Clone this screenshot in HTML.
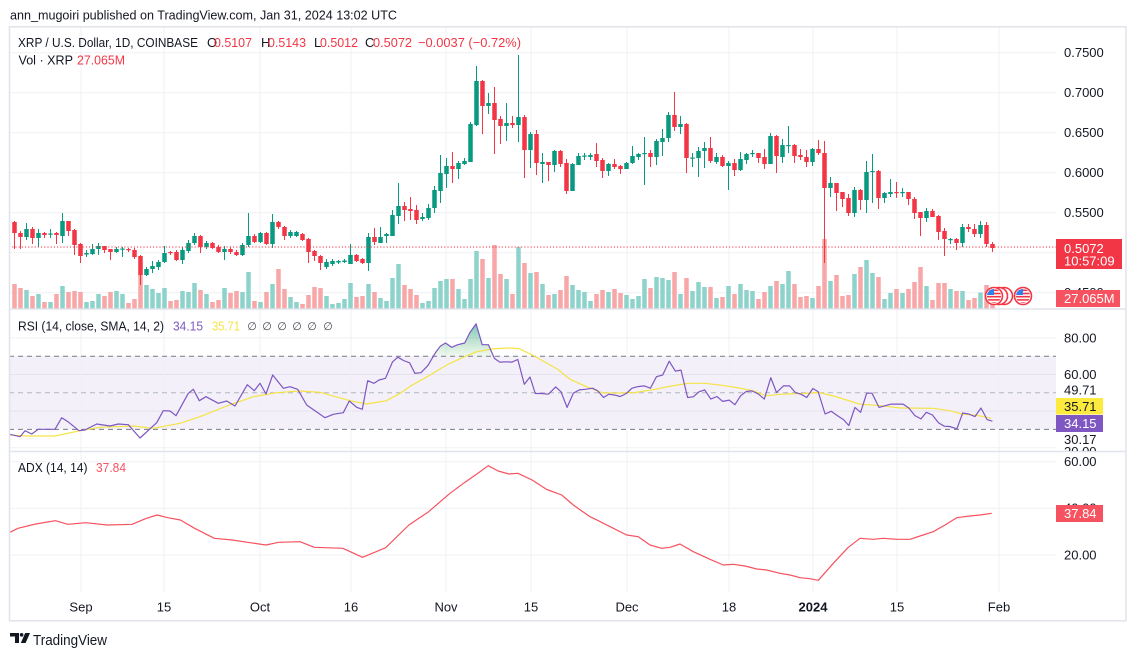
<!DOCTYPE html>
<html><head><meta charset="utf-8">
<style>
html,body{margin:0;padding:0;background:#fff;}
svg{display:block;font-family:"Liberation Sans",Arial,sans-serif;}
</style></head>
<body>
<svg id="s" width="1136" height="656" viewBox="0 0 1136 656" xmlns="http://www.w3.org/2000/svg">
<defs>
<clipPath id="plot"><rect x="9" y="27" width="1047" height="282"/></clipPath>
<clipPath id="rsiclip"><rect x="9" y="310" width="1117" height="141"/></clipPath>
<linearGradient id="ob" x1="0" y1="0" x2="0" y2="1">
<stop offset="0" stop-color="#089981" stop-opacity="0.55"/>
<stop offset="1" stop-color="#4caf50" stop-opacity="0.08"/>
</linearGradient>
<clipPath id="f1"><circle cx="994" cy="296" r="7"/></clipPath>
<clipPath id="f4"><circle cx="1023" cy="296" r="7"/></clipPath>
</defs>
<rect width="1136" height="656" fill="#fff"/>

<!-- header -->
<text x="10" y="19.5" font-size="13" fill="#131722" textLength="387" lengthAdjust="spacingAndGlyphs">ann_mugoiri published on TradingView.com, Jan 31, 2024 13:02 UTC</text>

<!-- RSI band -->
<rect x="9" y="356" width="1047" height="73" fill="#f3f0f9"/>

<!-- grid -->
<g stroke="#f0f1f5" stroke-width="1">
<line x1="9" x2="1056" y1="52.7" y2="52.7"/><line x1="9" x2="1056" y1="92.7" y2="92.7"/>
<line x1="9" x2="1056" y1="132.7" y2="132.7"/><line x1="9" x2="1056" y1="172.7" y2="172.7"/>
<line x1="9" x2="1056" y1="212.7" y2="212.7"/><line x1="9" x2="1056" y1="252.7" y2="252.7"/>
<line x1="9" x2="1056" y1="292.7" y2="292.7"/>
<line x1="9" x2="1056" y1="337.9" y2="337.9"/><line x1="9" x2="1056" y1="374.5" y2="374.5" stroke="#e6e1f1"/>
<line x1="9" x2="1056" y1="411.1" y2="411.1" stroke="#e6e1f1"/><line x1="9" x2="1056" y1="447.7" y2="447.7"/>
<line x1="9" x2="1056" y1="461.7" y2="461.7"/><line x1="9" x2="1056" y1="508.3" y2="508.3"/>
<line x1="9" x2="1056" y1="555" y2="555"/>
<line x1="81" x2="81" y1="27" y2="592"/><line x1="164" x2="164" y1="27" y2="592"/>
<line x1="260" x2="260" y1="27" y2="592"/><line x1="351" x2="351" y1="27" y2="592"/>
<line x1="446" x2="446" y1="27" y2="592"/><line x1="531" x2="531" y1="27" y2="592"/>
<line x1="627" x2="627" y1="27" y2="592"/><line x1="729" x2="729" y1="27" y2="592"/>
<line x1="813" x2="813" y1="27" y2="592"/><line x1="897" x2="897" y1="27" y2="592"/>
<line x1="999" x2="999" y1="27" y2="592"/>
</g>

<!-- volume + candles (generated) -->
<g id="vol" clip-path="url(#plot)"></g>
<g id="cdl" clip-path="url(#plot)"></g>

<!-- price line -->
<line x1="9" x2="1056" y1="247" y2="247" stroke="#f23645" stroke-width="1" stroke-dasharray="1.2,2"/>

<!-- flags -->
<g>
<circle cx="1004" cy="296" r="8.5" fill="#fff" stroke="#f23645" stroke-width="1.6"/>
<circle cx="999" cy="296" r="8.5" fill="#fff" stroke="#f23645" stroke-width="1.6"/>
<circle cx="994" cy="296" r="8.5" fill="#fff" stroke="#f23645" stroke-width="1.6"/>
<g clip-path="url(#f1)">
<rect x="986" y="288" width="16" height="16" fill="#fff"/>
<rect x="986" y="289.5" width="16" height="1.6" fill="#f23645"/><rect x="986" y="292.7" width="16" height="1.6" fill="#f23645"/>
<rect x="986" y="295.9" width="16" height="1.6" fill="#f23645"/><rect x="986" y="299.1" width="16" height="1.6" fill="#f23645"/>
<rect x="986" y="302.3" width="16" height="1.6" fill="#f23645"/>
<rect x="986" y="288" width="8" height="7" fill="#2f80ed"/>
</g>
<circle cx="1023" cy="296" r="8.5" fill="#fff" stroke="#f23645" stroke-width="1.6"/>
<g clip-path="url(#f4)">
<rect x="1015" y="288" width="16" height="16" fill="#fff"/>
<rect x="1015" y="289.5" width="16" height="1.6" fill="#f23645"/><rect x="1015" y="292.7" width="16" height="1.6" fill="#f23645"/>
<rect x="1015" y="295.9" width="16" height="1.6" fill="#f23645"/><rect x="1015" y="299.1" width="16" height="1.6" fill="#f23645"/>
<rect x="1015" y="302.3" width="16" height="1.6" fill="#f23645"/>
<rect x="1015" y="288" width="8" height="7" fill="#2f80ed"/>
</g>
</g>

<!-- RSI dashed levels -->
<line x1="9" x2="1056" y1="356.2" y2="356.2" stroke="#787b86" stroke-dasharray="5,4"/>
<line x1="9" x2="1056" y1="392.8" y2="392.8" stroke="#b2b5be" stroke-dasharray="5,4"/>
<line x1="9" x2="1056" y1="429.4" y2="429.4" stroke="#787b86" stroke-dasharray="5,4"/>

<!-- overbought fill -->
<polygon points="433.5,356.2 435.3,352.9 440.2,346.3 445.5,343 451.6,347.3 457.8,344.7 464.7,343 470,332.4 476.1,323.9 482.2,344.7 488.4,344.7 493,356.2" fill="url(#ob)"/>

<!-- SMA -->
<polyline fill="none" stroke="#f5e343" stroke-width="1.2" points="10,435 26.7,436 55,436 80,430.7 100,427.3 133.3,426 153.3,428.3 180,423.3 200,416.7 226.7,406 253.3,396.7 276.7,392.7 300,391 320,392.3 350,400.7 366.7,404 370,403.4 386.3,400.8 398.6,394.2 410.8,385.9 431.2,374.4 447.6,364.5 463.9,356.9 476.1,351.9 492.4,348.9 508.8,348 519,348.6 533.3,355.5 557.8,369.4 570,379.3 586.3,386.6 602.7,392.9 614.9,393.2 635.3,392.5 655.7,389.2 672,385.9 688.4,383.3 704.7,383.3 721,385.2 737.3,387.6 753.7,390.9 765.9,395.8 782.2,394.2 802.7,393.5 819,392.5 835.3,396.5 859.8,404.1 880.2,405.7 900.6,408 933.3,408.3 949.6,410.7 961.8,414 978.2,415.6 991.2,418.3"/>

<!-- RSI -->
<polyline fill="none" stroke="#7e57c2" stroke-width="1.2" stroke-linejoin="round" points="10,434.3 20,436.7 25,430.7 31.7,434 38.3,429.3 55,429.3 61.7,417.7 68,421.7 79,430.7 85,430 96.7,424 110,426 118.3,424 128.3,424.7 140,438 156.7,422.7 163.3,410.7 170,411 176,415.7 188.3,393.3 193.3,389.3 199.3,400.7 206,396.7 218.3,403.3 226.7,401 235,406 247.3,384.7 254.3,390.7 260,383.3 266,394 272.7,375 283.3,388.3 290,386.7 297.7,389.3 306.7,405 325,417.7 333.3,414.3 343.3,412.7 349.3,401 356.7,407.3 362.3,409.3 367.7,380.7 374,383.3 379,380 385.5,378.3 392.4,362.1 397.8,357.2 403.5,360.5 409.6,362.8 414.9,373.4 421,372.7 428,365.4 435.3,352.9 440.2,346.3 445.5,343 451.6,347.3 457.8,344.7 464.7,343 470,332.4 476.1,323.9 482.2,344.7 488.4,344.7 494.5,358.5 499.8,362.1 506.7,361.8 512,362.1 517.8,359.5 524.3,384.3 530,377 535.3,393.5 541.4,393.5 548.4,394.2 555.7,386.9 561,391.8 567.1,407.4 573.3,393.2 579.4,389.9 586.3,389.2 592.4,388.2 597.8,390.9 603.5,397.5 608.8,394.2 614.9,395.1 620.2,396.5 626.3,393.5 632,388.2 638.2,386.6 644.3,385.9 650.4,388.2 656.5,376.7 662.7,375 669.2,361.2 675.3,371.1 681,370.1 687.6,397.5 693.3,396.8 699,391.8 704.7,389.9 710.8,399.1 716.9,396.5 722.7,401.4 729.2,400.1 734.9,404.7 740.6,395.8 746.3,391.5 752,390.9 758.6,394.2 764.3,399.1 770.8,377.7 776.5,392.5 783.5,385.9 789.6,385.9 795.3,392.5 801,394.2 806.7,397.5 812.9,388.5 818.2,391.8 825.1,414 831.2,411.3 837.3,415.6 843.5,419.6 848.8,425.5 854.9,407.4 860.6,412.3 866.7,393.2 872,393.2 879,407.4 885.1,405.7 891.2,404.1 897.3,404.1 903.1,404.1 908.8,408 914.9,415.6 921,418.9 926.3,412.3 932.4,415 938.6,422.9 944.3,426.2 949.6,426.5 956.9,428.8 962.7,413 968.8,414 974.9,416.6 981,408 987.1,419.6 992.4,421.2"/>

<!-- ADX -->
<polyline fill="none" stroke="#f7525f" stroke-width="1.2" stroke-linejoin="round" points="10,532.3 17.9,528.3 35.7,524 55.4,520.7 67.9,524.3 85.7,522.7 107.1,525 132.1,524.3 146.4,518.3 157.1,515 167.9,517.7 180.4,520 194.6,528.3 214.3,538.3 232.1,540 250,542.7 266.1,545 278.6,542.3 300,541.7 314.3,547.3 342.9,548.3 362.5,557.3 385.7,547.7 408.9,525 428.6,511.7 450,493.3 464.3,482.7 478.6,472.7 488.2,465.7 498.2,471 508.9,474 517.9,473.3 532.1,480 546.4,489.3 548.3,490 561.7,495 573.3,505 590,516.7 598.3,520.7 613.3,528.3 626.7,535 638.3,536.7 650,545 661.7,548.3 670,547.3 680,544 693.3,551.7 710,559.3 723.3,565 733.3,564.3 745,566 756.7,569 766.7,570 780,573.3 790,575 800,577.7 810,578.7 818.3,580.3 833.3,563.3 848.3,547.3 860,538.3 873.3,539.3 883.3,538.3 896.7,539.3 910,539.3 920,536 933.3,531.7 945,525 956.7,517.7 970,516 980,515 991.7,513.3"/>

<!-- pane separators and frame -->
<line x1="9" x2="1126" y1="309" y2="309" stroke="#e0e3eb" stroke-width="1.5"/>
<line x1="9" x2="1126" y1="451.5" y2="451.5" stroke="#e0e3eb" stroke-width="1.5"/>
<rect x="9.5" y="26.8" width="1116.5" height="594" fill="none" stroke="#e0e3eb" stroke-width="1.5"/>

<!-- legends -->
<g font-size="13" fill="#131722">
<text x="18" y="47" textLength="180" lengthAdjust="spacingAndGlyphs">XRP / U.S. Dollar, 1D, COINBASE</text>
<text x="207" y="47">O</text><text x="214" y="47" fill="#f23645" textLength="38" lengthAdjust="spacingAndGlyphs">0.5107</text>
<text x="261" y="47">H</text><text x="268" y="47" fill="#f23645" textLength="38" lengthAdjust="spacingAndGlyphs">0.5143</text>
<text x="314" y="47">L</text><text x="320" y="47" fill="#f23645" textLength="38" lengthAdjust="spacingAndGlyphs">0.5012</text>
<text x="365" y="47">C</text><text x="373" y="47" fill="#f23645" textLength="39" lengthAdjust="spacingAndGlyphs">0.5072</text>
<text x="418" y="47" fill="#f23645" textLength="103" lengthAdjust="spacingAndGlyphs">−0.0037 (−0.72%)</text>
<text x="18.5" y="64.5" textLength="54.5" lengthAdjust="spacingAndGlyphs">Vol · XRP</text>
<text x="77" y="64.5" fill="#f23645" textLength="48" lengthAdjust="spacingAndGlyphs">27.065M</text>

<text x="18" y="330.5" textLength="146" lengthAdjust="spacingAndGlyphs">RSI (14, close, SMA, 14, 2)</text>
<text x="173" y="330.5" fill="#7e57c2" textLength="30" lengthAdjust="spacingAndGlyphs">34.15</text>
<text x="212" y="330.5" fill="#f5e343" textLength="28" lengthAdjust="spacingAndGlyphs">35.71</text>
<g font-size="11" text-anchor="middle" fill="#434651" font-family="'DejaVu Sans',sans-serif">
<text x="252" y="330">∅</text><text x="267" y="330">∅</text><text x="282" y="330">∅</text>
<text x="297" y="330">∅</text><text x="312" y="330">∅</text><text x="328" y="330">∅</text>
</g>
<text x="18" y="472" textLength="69.5" lengthAdjust="spacingAndGlyphs">ADX (14, 14)</text>
<text x="96" y="472" fill="#f7525f" textLength="30" lengthAdjust="spacingAndGlyphs">37.84</text>
</g>

<!-- price axis -->
<g font-size="13" fill="#131722">
<text x="1064" y="57.2">0.7500</text>
<text x="1064" y="97.2">0.7000</text>
<text x="1064" y="137.2">0.6500</text>
<text x="1064" y="177.2">0.6000</text>
<text x="1064" y="217.2">0.5500</text>
<text x="1064" y="297.2">0.4500</text>
</g>
<rect x="1056" y="239" width="66" height="30" fill="#f23645"/>
<text x="1064" y="253" font-size="13" fill="#fff">0.5072</text>
<text x="1064" y="265.5" font-size="13" fill="#fff">10:57:09</text>
<rect x="1056" y="290" width="64" height="17" fill="#f7525f"/>
<text x="1064" y="303" font-size="13" fill="#fff">27.065M</text>

<!-- RSI axis -->
<g font-size="13" fill="#131722">
<text x="1064" y="342.3">80.00</text>
<text x="1064" y="378.8">60.00</text>
<text x="1064" y="394.6">49.71</text>
<text x="1064" y="443.8">30.17</text>
<g clip-path="url(#rsiclip)"><text x="1064" y="456">20.00</text></g>
</g>
<rect x="1056" y="398" width="47" height="16.5" fill="#fdea3f"/>
<text x="1064" y="410.8" font-size="13" fill="#131722">35.71</text>
<rect x="1056" y="415" width="47" height="17" fill="#7e57c2"/>
<text x="1064" y="428" font-size="13" fill="#fff">34.15</text>

<!-- ADX axis -->
<g font-size="13" fill="#131722">
<text x="1064" y="466.2">60.00</text>
<text x="1064" y="512.3">40.00</text>
<text x="1064" y="559.5">20.00</text>
</g>
<rect x="1056" y="505" width="47" height="17" fill="#f7525f"/>
<text x="1064" y="518.2" font-size="13" fill="#fff">37.84</text>

<!-- time axis -->
<g font-size="13" fill="#131722" text-anchor="middle">
<text x="81" y="611.5">Sep</text>
<text x="164" y="611.5">15</text>
<text x="260" y="611.5">Oct</text>
<text x="351" y="611.5">16</text>
<text x="446" y="611.5">Nov</text>
<text x="531" y="611.5">15</text>
<text x="627" y="611.5">Dec</text>
<text x="729" y="611.5">18</text>
<text x="813" y="611.5" font-weight="bold">2024</text>
<text x="897" y="611.5">15</text>
<text x="999" y="611.5">Feb</text>
</g>

<!-- logo -->
<g fill="#131722">
<path d="M10,633 H19 V643 H15 V636.5 H10 Z"/>
<circle cx="21.6" cy="634.8" r="1.8"/>
<path d="M25.2,633 H30 L25.6,643 H20.8 Z"/>
</g>
<text x="33" y="645" font-size="15" fill="#131722" textLength="74" lengthAdjust="spacingAndGlyphs">TradingView</text>
</svg>

<script>
(function(){
var C=[[0,222,233,221,249],[0,233,237,231,249],[1,229,237,223,240],[0,229,238,227,244],[1,233,238,229,247],[0,233,235,232,238],[1,233.5,234.5,229,238],[0,233,235,232,244],[1,221,236,213,243],[0,221,231,221,236],
[0,230,245,229,255],[0,244,256,243,263],[1,253,254.5,250,257],[1,249,254,244,255],[1,246,249,243,255],[0,246,250,246,253],[0,249,252,249,260],[1,249,252,247,253],[1,248.5,249.5,247,257],[0,249,250,248,252],
[0,250,257,248,259],[0,256,275,255,285],[1,269,275,267,276],[1,266,269,261,273],[1,262,267,260,270],[1,253,262,246,263],[0,252,253,251,255],[0,252,260,250,261],[1,250,260,247,264],[1,243,251,240,253],
[1,236,243,233,245],[0,236,247,235,253],[1,243,247,241,249],[0,243,248,242,249],[0,247,252,245,253],[1,249,252,246,260],[0,249,252,247,254],[0,252,255,250,256],[1,245,255,243,256],[1,236,245,213,247],
[0,236,242,234,243],[1,233,242,232,243],[0,233,244,232,245],[1,222,244,214,248],[0,222,227,221,229],[0,227,236,226,240],[1,232,236,230,238],[1,232,236,231,237],[0,234,240,233,241],[0,239,252,238,263],
[0,251,256,250,261],[0,256,263,255,270],[1,262,267,259,269],[1,261,264,259,266],[1,261,262.5,260,264],[1,260.5,262,259,263],[1,255,264,244,264],[0,255,261,254,262],[0,259,263,258,264],[1,237,263,233,271],
[0,237,242,228,245],[1,237,243,227,243],[1,234,236,233,243],[1,215,236,210,236],[1,206,216,183,224],[0,206,210,202,221],[0,209,211,197,220],[0,210,220,205,224],[1,217,219,213,221],[1,208,218,204,220],
[1,190,208,186,213],[1,173,191,155,203],[1,166,174,158,188],[0,166,169,152,183],[1,163,169,161,179],[1,161,164,158,165],[1,124,162,122,162],[1,81,125,66,126],[0,81,106,80,134],[1,103,106,93,114],
[0,103,120,87,154],[0,119,126,116,144],[1,123,126,103,141],[0,123,125,116,128],[1,117,125,55,142],[0,117,150,115,178],[1,134,150,132,168],[0,134,163,130,175],[1,162,164,153,183],[0,162,165,162,181],
[1,151,165,150,172],[0,151,164,150,167],[0,163,191,159,194],[1,164,191,163,191],[1,156,165,153,165],[1,155.5,156.7,153,160],[1,155,157,153,160],[0,154,161,143,167],[0,160,171,158,178],[1,164,171,163,176],
[0,164,167,159,169],[0,166,169,165,174],[1,163,169,162,169],[1,156,163,146,164],[1,154,157,153,160],[1,153,154,137,185],[0,153,157,150,167],[1,141,157,139,165],[1,138,142,129,156],[1,115,138,112,142],
[0,115,127,92,131],[1,124,127,116,134],[0,124,158,123,173],[1,157.5,158.5,153,167],[1,151,158,147,177],[1,148,151,142,168],[0,148,161,137,163],[1,157,162,153,164],[0,157,166,155,167],[1,163,166,161,190],
[0,163,170,159,176],[1,159,170,152,171],[1,154,160,153,164],[1,153,154,150,157],[0,153,158,153,163],[0,157,164,149,169],[1,136,164,133,164],[0,136,156,135,173],[1,145,157,139,163],[1,145,146,126,153],
[0,145,156,144,163],[0,155,157,149,160],[0,157,162,150,167],[1,149,162,148,166],[0,149,153,140,155],[0,153,188,141,263],[1,183,188,177,197],[0,183,193,183,211],[0,192,199,192,207],[0,198,213,194,216],
[1,190,213,187,217],[0,190,200,189,210],[1,172,200,161,213],[1,171,172,154,203],[0,171,198,170,209],[1,193,198,192,203],[1,192,194,179,197],[0,192,193,182,198],[1,192,193,188,197],[0,192,199,192,205],
[0,199,213,197,219],[0,212,218,212,236],[1,211,218,208,222],[0,211,217,209,217],[0,216,232,215,240],[0,231,239,228,256],[1,239,240,238,244],[0,239,243,238,250],[1,227,243,224,247],[0,227,229,224,232],
[0,229,234,224,237],[1,225,234,221,238],[0,225,244,222,247],[0,244,248,242,252]];
var V=[284,288,290,296,294,302,302,294,286,292,291,292,302,301,294,296,292,291,294,303,299,275,285,289,293,288,301,300,291,292,283,290,294,302,300,288,293,291,292,272,301,302,292,284,269,289,297,302,304,295,287,288,296,304,303,299,283,297,296,284,292,
298,301,278,264,285,289,295,303,301,288,281,279,279,289,299,279,251,259,278,245,274,279,294,247,263,273,272,284,295,294,290,276,285,290,292,301,294,290,292,289,293,295,299,296,279,288,277,278,280,272,294,278,291,282,
287,287,298,297,286,294,284,290,291,299,292,286,281,284,271,284,297,296,298,286,239,281,275,296,295,274,267,260,273,277,299,293,289,293,289,282,267,286,300,283,283,289,291,291,300,298,292.5,285,293];
var NS='http://www.w3.org/2000/svg';
var gv=document.getElementById('vol'), gc=document.getElementById('cdl');
function el(tag,attrs,parent){var e=document.createElementNS(NS,tag);for(var k in attrs)e.setAttribute(k,attrs[k]);parent.appendChild(e);return e;}
var BASE=308.5, W=4.5;
for(var i=0;i<C.length;i++){
  var c=C[i], x=14.5+6*i, g=c[0]===1;
  var vt=(i<V.length)?V[i]:300;
  el('rect',{x:(x-W/2).toFixed(2),y:vt,width:W,height:(BASE-vt).toFixed(2),fill:g?'#8ed3cb':'#f7a7a7'},gv);
  var col=g?'#089981':'#f23645';
  el('line',{x1:x,x2:x,y1:c[3],y2:c[4],stroke:col,'stroke-width':1},gc);
  var h=Math.max(c[2]-c[1],1.2);
  el('rect',{x:(x-W/2).toFixed(2),y:c[1],width:W,height:h.toFixed(2),fill:col},gc);
}
})();
</script>
</body></html>
